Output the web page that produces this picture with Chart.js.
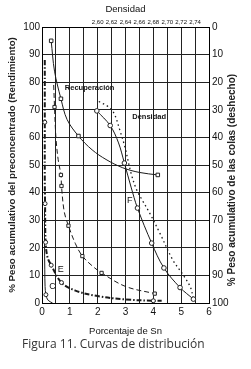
<!DOCTYPE html>
<html>
<head>
<meta charset="utf-8">
<script src="https://cdn.jsdelivr.net/npm/chart.js@4"></script>
<style>
  body { margin: 0; background: #fff; }
  #wrap { position: relative; width: 251px; height: 369px; }
  #cap { position: absolute; left: 22px; top: 335px; font: 12px "Open Sans", sans-serif; color: #333; white-space: nowrap; }
</style>
</head>
<body>
<div id="wrap">
  <canvas id="c" width="251" height="369" style="width:251px;height:369px"></canvas>
  <div id="cap">Figura 11. Curvas de distribución</div>
</div>
<script>
// tick labels
const snTicks = [0, 1, 2, 3, 4, 5, 6];
const densPos = [2, 2.5, 3, 3.5, 4, 4.5, 5, 5.5];
const densLabels = ["2,60", "2,62", "2,64", "2,66", "2,68", "2,70", "2,72", "2,74"];

// Recuperacion curve
const recupX = [0.33, 0.45, 0.68, 0.9, 1.31, 1.8, 2.3, 2.9, 3.5, 4.16];
const recupY = [95, 84, 74, 66.5, 60.5, 55.5, 52, 49, 47.3, 46.4];

// Densidad curve (F)
const densX = [1.97, 2.45, 2.75, 2.96, 3.2, 3.43, 3.94, 4.38, 4.96, 5.44];
const densY = [69.6, 64.3, 58, 50.7, 42, 34.4, 21.7, 12.7, 5.6, 1.4];

// dotted curve
const dotX = [2.04, 2.4, 2.6, 2.8, 2.98, 3.2, 3.4, 3.6, 3.9, 4.23, 4.7, 5.05, 5.33, 5.44];
const dotY = [73, 71, 68.5, 62.5, 56.5, 47, 41, 37.3, 32, 25.4, 15.6, 10.5, 5.8, 1.5];

// dashed curve with squares
const dashX = [0.42, 0.45, 0.5, 0.58, 0.68, 0.7, 0.8, 0.95, 1.2, 1.45, 1.8, 2.14, 3.0, 4.05];
const dashY = [79, 71, 60, 52, 46.4, 42.4, 33, 28, 21.5, 17, 13.5, 10.9, 6, 3.4];

// curve E (dash-dot with circles)
const eX = [0.1, 0.1, 0.1, 0.1, 0.11, 0.13, 0.2, 0.33, 0.7, 1.2, 2.0, 3.0, 4.0, 4.3];
const eY = [88, 75, 65.5, 45, 36, 22, 16.5, 13.7, 7.4, 4.5, 2.5, 1.3, 0.8, 0.8];

// curve C
const cX = [0.09, 0.09, 0.1, 0.11, 0.14, 0.22, 0.38];
const cY = [34, 22, 12, 6, 3, 1, 0];

// curve names written on the chart
const names = ["Recuperación", "Densidad", "F", "E", "C"];
const nameX = [1.71, 3.85, 3.15, 0.67, 0.38];
const nameY = [77.9, 67.4, 37.3, 12.3, 5.8];

const rightTitle = "% Peso acumulativo de las colas (deshecho)";

function pts(xs, ys) {
  return xs.map((x, i) => ({ x: x, y: ys[i] }));
}
function marks(idx, r) {
  return (ctx) => (idx.includes(ctx.dataIndex) ? r : 0);
}

const FONT = '"Liberation Sans", Arial, sans-serif';

// curve names + right axis title (reads bottom to top like the left one)
const labelPlugin = {
  id: "curveNames",
  afterDatasetsDraw(chart) {
    const ctx = chart.ctx;
    const sx = chart.scales.x, sy = chart.scales.y;
    const area = chart.chartArea;
    ctx.save();
    ctx.fillStyle = "#111";
    ctx.textAlign = "center";
    ctx.textBaseline = "middle";
    for (let i = 0; i < names.length; i++) {
      ctx.font = (names[i].length > 1 ? "bold 7.5px " : "9px ") + FONT;
      ctx.fillText(names[i], sx.getPixelForValue(nameX[i]), sy.getPixelForValue(nameY[i]));
    }
    ctx.fillStyle = "#222";
    ctx.font = "bold 10px " + FONT;
    ctx.translate(chart.width - 19, (area.top + area.bottom) / 2 + 15);
    ctx.rotate(-Math.PI / 2);
    ctx.fillText(rightTitle, 0, 0);
    ctx.restore();
  },
};

const base = {
  showLine: true,
  borderColor: "#1a1a1a",
  borderWidth: 1,
  pointBackgroundColor: "#fff",
  pointBorderColor: "#222",
  pointBorderWidth: 1,
  tension: 0.35,
  fill: false,
};

new Chart(document.getElementById("c"), {
  type: "scatter",
  data: {
    datasets: [
      { ...base, data: pts(recupX, recupY), pointStyle: "rect", pointRadius: marks([0, 2, 4, 9], 2.5) },
      { ...base, data: pts(densX, densY), pointStyle: "circle", pointRadius: marks([0, 1, 3, 5, 6, 7, 8, 9], 2.3) },
      { ...base, data: pts(dotX, dotY), borderDash: [1.5, 3], borderWidth: 1.3, pointRadius: 0 },
      { ...base, data: pts(dashX, dashY), borderDash: [5, 3], pointStyle: "rect", pointRadius: marks([1, 4, 5, 7, 9, 11, 13], 2.3) },
      { ...base, data: pts(eX, eY), borderDash: [5, 2, 1.5, 2], borderWidth: 2, pointStyle: "circle", pointRadius: marks([2, 4, 5, 7, 8, 12], 2) },
      { ...base, data: pts(cX, cY), pointStyle: "circle", pointRadius: marks([4], 2) },
    ],
  },
  options: {
    responsive: false,
    animation: false,
    layout: { padding: { left: 0, right: 0, top: 0, bottom: 32 } },
    plugins: { legend: { display: false }, tooltip: { enabled: false } },
    scales: {
      x: {
        type: "linear",
        position: "bottom",
        min: 0,
        max: 6,
        afterBuildTicks: (s) => {
          const t = [];
          for (let i = 0; i <= 12; i++) t.push({ value: i / 2 });
          s.ticks = t;
        },
        afterFit: (s) => { s.height = 34; },
        ticks: {
          padding: 3,
          color: "#111",
          font: { family: FONT, size: 10 },
          callback: (v) => (snTicks.includes(v) ? String(v) : ""),
        },
        grid: { color: "#222", lineWidth: 1, drawTicks: false },
        border: { display: true, color: "#000", width: 1 },
        title: { display: true, text: "Porcentaje de Sn", color: "#111", padding: 0, font: { family: FONT, size: 9.5 } },
      },
      x2: {
        type: "linear",
        position: "top",
        min: 0,
        max: 6,
        afterBuildTicks: (s) => { s.ticks = densPos.map((v) => ({ value: v })); },
        afterFit: (s) => { s.height = 27; },
        ticks: {
          padding: 1,
          color: "#111",
          font: { family: FONT, size: 6 },
          callback: (v) => densLabels[densPos.indexOf(v)],
        },
        grid: { drawOnChartArea: false, drawTicks: false },
        border: { display: true, color: "#000", width: 1 },
        title: { display: true, text: "Densidad", color: "#111", padding: { top: 4, bottom: 2 }, font: { family: FONT, size: 9.5 } },
      },
      y: {
        type: "linear",
        position: "left",
        min: 0,
        max: 100,
        afterFit: (s) => { s.width = 42; },
        ticks: { stepSize: 10, padding: 2, color: "#111", font: { family: FONT, size: 10 } },
        grid: { color: "#222", lineWidth: 1, drawTicks: false },
        border: { display: true, color: "#000", width: 1 },
        title: { display: true, text: "% Peso acumulativo del preconcentrado (Rendimiento)", color: "#222", padding: { top: 6, bottom: 0 }, font: { family: FONT, size: 9.75, weight: "bold" } },
      },
      y2: {
        type: "linear",
        position: "right",
        min: 0,
        max: 100,
        afterFit: (s) => { s.width = 42; },
        ticks: { stepSize: 10, padding: 3, color: "#111", font: { family: FONT, size: 10 }, callback: (v) => String(100 - v) },
        grid: { drawOnChartArea: false, drawTicks: false },
        border: { display: true, color: "#000", width: 1 },
        title: { display: false },
      },
    },
  },
  plugins: [labelPlugin],
});
</script>
</body>
</html>
